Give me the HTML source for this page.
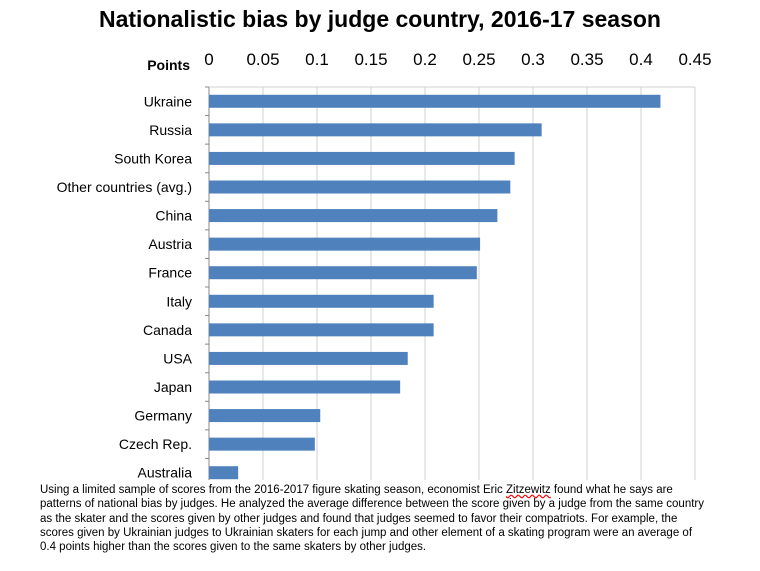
<!DOCTYPE html>
<html><head><meta charset="utf-8"><style>
body{margin:0;background:#fff;font-family:"Liberation Sans",sans-serif;}
#wrap{position:relative;width:760px;height:571px;overflow:hidden;}
#title{position:absolute;left:0;width:760px;top:6px;text-align:center;font-weight:bold;font-size:23px;color:#000;}
#caption{position:absolute;left:40px;top:483px;width:720px;font-size:11.5px;line-height:14.3px;color:#000;white-space:nowrap;}
</style></head><body>
<div id="wrap">
<div id="title">Nationalistic bias by judge country, 2016-17 season</div>
<svg id="chart" width="760" height="480" style="position:absolute;left:0;top:0"></svg>
<div id="caption">Using a limited sample of scores from the 2016-2017 figure skating season, economist Eric <span style="text-decoration:underline wavy red">Zitzewitz</span> found what he says are<br>patterns of national bias by judges. He analyzed the average difference between the score given by a judge from the same country<br>as the skater and the scores given by other judges and found that judges seemed to favor their compatriots. For example, the<br>scores given by Ukrainian judges to Ukrainian skaters for each jump and other element of a skating program were an average of<br>0.4 points higher than the scores given to the same skaters by other judges.</div>
</div>
<script>
const categories=["Ukraine","Russia","South Korea","Other countries (avg.)","China","Austria","France","Italy","Canada","USA","Japan","Germany","Czech Rep.","Australia"];
const values=[0.418,0.308,0.283,0.279,0.267,0.251,0.248,0.208,0.208,0.184,0.177,0.103,0.098,0.027];
const ticks=[0,0.05,0.1,0.15,0.2,0.25,0.3,0.35,0.4,0.45];
const tickLabels=["0","0.05","0.1","0.15","0.2","0.25","0.3","0.35","0.4","0.45"];
const svg=document.getElementById('chart');
const NS='http://www.w3.org/2000/svg';
const x0=209,x1=695,yTop=87,yBot=487,maxV=0.45;
const xs=v=>x0+(v/maxV)*(x1-x0);
const band=(yBot-yTop)/categories.length;
function mk(t,a){const e=document.createElementNS(NS,t);for(const k in a)e.setAttribute(k,a[k]);svg.appendChild(e);return e;}
ticks.forEach((t,i)=>{
 const g=mk('line',{x1:xs(t),x2:xs(t),y1:yTop,y2:yBot,stroke:i===0?'#888':'#d0d0d0','stroke-width':1});
 
 
 const l=mk('text',{x:xs(t),y:65,'text-anchor':'middle','font-size':17,fill:'#000','font-family':'Liberation Sans, sans-serif'});
 l.textContent=tickLabels[i];
 
 
});
const topLine=mk('line',{x1:x0,x2:x1,y1:yTop,y2:yTop,stroke:'#d0d0d0'});


const axisTitle=mk('text',{x:190,y:70,'text-anchor':'end','font-size':14,'font-weight':'bold',fill:'#000','font-family':'Liberation Sans, sans-serif'});
axisTitle.textContent='Points';


for(let i=0;i<=categories.length;i++){
 const tk=mk('line',{x1:x0-4,x2:x0,y1:yTop+i*band,y2:yTop+i*band,stroke:'#888'});
 
 
}
categories.forEach((c,i)=>{
 const cy=yTop+band*(i+0.5);
 const r=mk('rect',{x:x0,y:cy-6.5,width:xs(values[i])-x0,height:13,fill:'#4f81bd'});
 
 
 const l=mk('text',{x:192,y:cy+5,'text-anchor':'end','font-size':14,fill:'#000','font-family':'Liberation Sans, sans-serif'});
 l.textContent=c;
 
 
});
</script>
</body></html>
